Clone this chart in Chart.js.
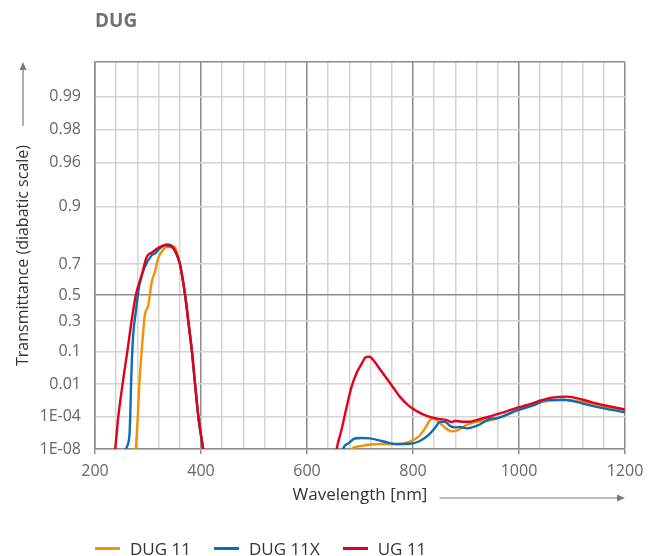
<!DOCTYPE html>
<html>
<head>
<meta charset="utf-8">
<title>DUG</title>
<script src="https://cdn.jsdelivr.net/npm/chart.js@4.4.0/dist/chart.umd.min.js"></script>
<style>
  html, body { margin: 0; padding: 0; background: #fff; }
  #wrap { position: relative; width: 655px; height: 556px; }
  #legend {
    position: absolute; left: 95px; top: 537px; height: 22px;
    display: flex; align-items: center;
    font: 17px "Open Sans", sans-serif; color: #333;
  }
  #legend .item { display: flex; align-items: center; margin-right: 23px; }
  #legend .swatch { width: 25px; height: 3px; margin-right: 10px; }
</style>
</head>
<body>
<div id="wrap">
  <canvas id="chart" width="655" height="556"></canvas>
  <div id="legend"></div>
</div>
<script>
// series
const seriesNames = ['DUG 11', 'DUG 11X', 'UG 11'];
const seriesColors = ['#f39200', '#0b6db4', '#e2001a'];

// [wavelength nm, transmittance], null = gap
const dug11 = [
  [273, 1e-12], [277, 1e-8], [280.5, 6.9e-5], [283.6, 0.0089], [288, 0.098], [294, 0.345],
  [300.6, 0.424], [307, 0.593], [313, 0.655], [319, 0.727], [326, 0.76], [335, 0.78],
  [351, 0.78], [357, 0.727], [360, 0.702], [370, 0.5], [376, 0.3], [383, 0.098],
  [389, 0.0089], [395, 9.5e-5], [404, 1e-8], [408, 1e-11], [500, null],
  [680, 1e-11], [684, 1e-8], [697, 2.7e-8], [713, 4.5e-8], [738, 6.5e-8], [769, 6e-8],
  [794, 1.5e-7], [810, 6.5e-7], [823, 7.5e-6], [832, 4.8e-5], [838, 7e-5], [848, 3.4e-5],
  [860, 9e-6], [873, 3.2e-6], [885, 4.6e-6], [901, 1.6e-5], [920, 3.4e-5], [939, 4e-5],
  [964, 8.5e-5], [999, 3.6e-4], [1052, 1.3e-3], [1090, 1.5e-3], [1134, 9.5e-4],
  [1165, 5.6e-4], [1200, 3.3e-4]
];
const dug11x = [
  [254, 1e-12], [258.5, 1e-8], [265, 1.1e-6], [269, 0.036], [272, 0.196], [277, 0.371],
  [283.6, 0.57], [294, 0.684], [307, 0.744], [313, 0.752], [323, 0.776], [335, 0.79],
  [345, 0.785], [353, 0.752], [360, 0.702], [370, 0.5], [376, 0.3], [383, 0.098],
  [389, 0.0089], [395, 9.5e-5], [404, 1e-8], [408, 1e-11], [500, null],
  [664, 1e-11], [668, 1e-8], [678, 8e-8], [690, 4e-7], [703, 4.7e-7], [719, 4.2e-7],
  [744, 1.5e-7], [769, 6.5e-8], [794, 7e-8], [813, 1.8e-7], [829, 1.1e-6], [842, 9e-6],
  [851, 3.4e-5], [860, 3.4e-5], [870, 1.3e-5], [879, 9e-6], [889, 1e-5], [901, 7e-6],
  [914, 1e-5], [926, 1.8e-5], [945, 6e-5], [958, 7e-5], [999, 3.3e-4], [1027, 7e-4],
  [1052, 1.5e-3], [1084, 1.6e-3], [1102, 1.3e-3], [1134, 7e-4], [1165, 4e-4], [1200, 2.2e-4]
];
const ug11 = [
  [232, 1e-12], [238, 1e-8], [244, 1e-4], [252, 0.01], [261, 0.1], [269, 0.3],
  [277, 0.5], [288, 0.635], [297.5, 0.735], [307, 0.756], [319, 0.776], [332, 0.787],
  [345, 0.78], [354, 0.751], [360, 0.702], [370, 0.5], [376, 0.3], [383, 0.098],
  [389, 0.0089], [395, 9.5e-5], [404, 1e-8], [408, 1e-11], [500, null],
  [652, 1e-11], [656, 1e-8], [665, 4.6e-6], [675, 5.8e-4], [684, 0.0075], [694, 0.027],
  [703, 0.05], [711, 0.074], [718, 0.076], [725, 0.063], [738, 0.034], [750, 0.017],
  [763, 0.0068], [775, 0.0024], [791, 7e-4], [807, 2.7e-4], [826, 1.1e-4], [845, 6.6e-5],
  [864, 4.8e-5], [873, 3.1e-5], [879, 4e-5], [892, 3.4e-5], [908, 3.4e-5], [920, 4.8e-5],
  [945, 1e-4], [964, 1.8e-4], [999, 5e-4], [1021, 8.5e-4], [1043, 1.5e-3], [1062, 2.1e-3],
  [1090, 2.4e-3], [1102, 2.2e-3], [1134, 1.2e-3], [1165, 6.6e-4], [1200, 3.6e-4]
];

// axes
const yTickValues = [1e-8, 1e-4, 0.01, 0.1, 0.3, 0.5, 0.7, 0.9, 0.96, 0.98, 0.99];
const yTickLabels = ['1E-08', '1E-04', '0.01', '0.1', '0.3', '0.5', '0.7', '0.9', '0.96', '0.98', '0.99'];
const yBottomT = 1e-8;
const yTopT = 0.9952;
const xMin = 200, xMax = 1200, xStep = 40, xMajor = 200;

// diabatic scale: -log10(ln(1/T))
function diab(t) { return -Math.log10(-Math.log(t)); }

const MAJOR = '#8c8c8c';
const MINOR = '#d4d4d4';
const FONT = '"Open Sans", sans-serif';

const allSeries = [dug11, dug11x, ug11];
const datasets = allSeries.map((s, i) => ({
  label: seriesNames[i],
  data: s.map(p => ({ x: p[0], y: p[1] == null ? null : diab(p[1]) })),
  borderColor: seriesColors[i],
  backgroundColor: seriesColors[i],
  borderWidth: 2.4,
  pointRadius: 0,
  fill: false,
  spanGaps: false,
  cubicInterpolationMode: 'monotone',
  order: 3 - i
}));

const axisArrows = {
  id: 'axisArrows',
  afterDraw(chart) {
    const { ctx, chartArea, scales } = chart;
    ctx.save();
    ctx.strokeStyle = '#7a7a7a';
    ctx.fillStyle = '#7a7a7a';
    ctx.lineWidth = 1.2;
    ctx.font = '17px ' + FONT;

    // x arrow, right of title
    const xw = ctx.measureText(scales.x.options.title.text).width;
    const xc = (chartArea.left + chartArea.right) / 2;
    const ay = 498;
    ctx.beginPath();
    ctx.moveTo(xc + xw / 2 + 12, ay);
    ctx.lineTo(chartArea.right - 6, ay);
    ctx.stroke();
    ctx.beginPath();
    ctx.moveTo(chartArea.right, ay);
    ctx.lineTo(chartArea.right - 8, ay - 3.5);
    ctx.lineTo(chartArea.right - 8, ay + 3.5);
    ctx.closePath();
    ctx.fill();

    // y arrow, above title
    const yw = ctx.measureText(scales.y.options.title.text).width;
    const yc = (chartArea.top + chartArea.bottom) / 2;
    const ax = 23;
    ctx.beginPath();
    ctx.moveTo(ax, yc - yw / 2 - 12);
    ctx.lineTo(ax, chartArea.top + 6);
    ctx.stroke();
    ctx.beginPath();
    ctx.moveTo(ax, chartArea.top);
    ctx.lineTo(ax - 3.5, chartArea.top + 8);
    ctx.lineTo(ax + 3.5, chartArea.top + 8);
    ctx.closePath();
    ctx.fill();
    ctx.restore();
  }
};

new Chart(document.getElementById('chart'), {
  type: 'line',
  data: { datasets },
  plugins: [axisArrows],
  options: {
    responsive: false,
    devicePixelRatio: 1,
    animation: false,
    layout: { padding: { left: 0, right: 30, top: 0, bottom: 0 } },
    plugins: {
      legend: { display: false },
      tooltip: { enabled: false },
      title: {
        display: true,
        text: 'DUG',
        align: 'start',
        fullSize: false,
        color: '#707070',
        font: { family: FONT, size: 19, weight: 'bold' },
        padding: { top: 10, bottom: 29.2 }
      }
    },
    scales: {
      x: {
        type: 'linear',
        min: xMin,
        max: xMax,
        afterFit(scale) { scale.height = 107; },
        border: { color: MAJOR, width: 1.5 },
        grid: {
          lineWidth: 1.5,
          color: c => (c.tick && c.tick.value % xMajor === 0) ? MAJOR : MINOR,
          tickColor: c => (c.tick && c.tick.value % xMajor === 0) ? MAJOR : 'rgba(0,0,0,0)',
          tickLength: 5,
          drawTicks: true
        },
        ticks: {
          stepSize: xStep,
          autoSkip: false,
          maxRotation: 0,
          padding: 8,
          color: '#666',
          font: { family: FONT, size: 16 },
          callback: v => (v % xMajor === 0 ? String(v) : '')
        },
        title: {
          display: true,
          text: 'Wavelength [nm]',
          color: '#333',
          font: { family: FONT, size: 17 },
          padding: { top: 0, bottom: 50.8 }
        }
      },
      y: {
        type: 'linear',
        min: diab(yBottomT),
        max: diab(yTopT),
        afterFit(scale) { scale.width = 95; },
        afterBuildTicks(scale) {
          scale.ticks = yTickValues.map(t => ({ value: diab(t) }));
          scale.ticks.push({ value: diab(yTopT) });
        },
        border: { color: MAJOR, width: 1.5 },
        grid: {
          lineWidth: 1.5,
          drawTicks: false,
          color: c => {
            if (!c.tick) return MINOR;
            const v = c.tick.value;
            if (Math.abs(v - diab(0.5)) < 1e-6 || Math.abs(v - diab(yTopT)) < 1e-6) return MAJOR;
            return MINOR;
          }
        },
        ticks: {
          padding: 14,
          color: '#666',
          font: { family: FONT, size: 16 },
          callback: (v, i) => (yTickLabels[i] !== undefined ? yTickLabels[i] : '')
        },
        title: {
          display: true,
          text: 'Transmittance (diabatic scale)',
          color: '#333',
          font: { family: FONT, size: 16 },
          padding: { top: 14, bottom: 0 }
        }
      }
    }
  }
});

// html legend
const legendEl = document.getElementById('legend');
seriesNames.forEach((name, i) => {
  const item = document.createElement('div');
  item.className = 'item';
  const sw = document.createElement('span');
  sw.className = 'swatch';
  sw.style.background = seriesColors[i];
  const tx = document.createElement('span');
  tx.textContent = name;
  item.appendChild(sw);
  item.appendChild(tx);
  legendEl.appendChild(item);
});
</script>
</body>
</html>
